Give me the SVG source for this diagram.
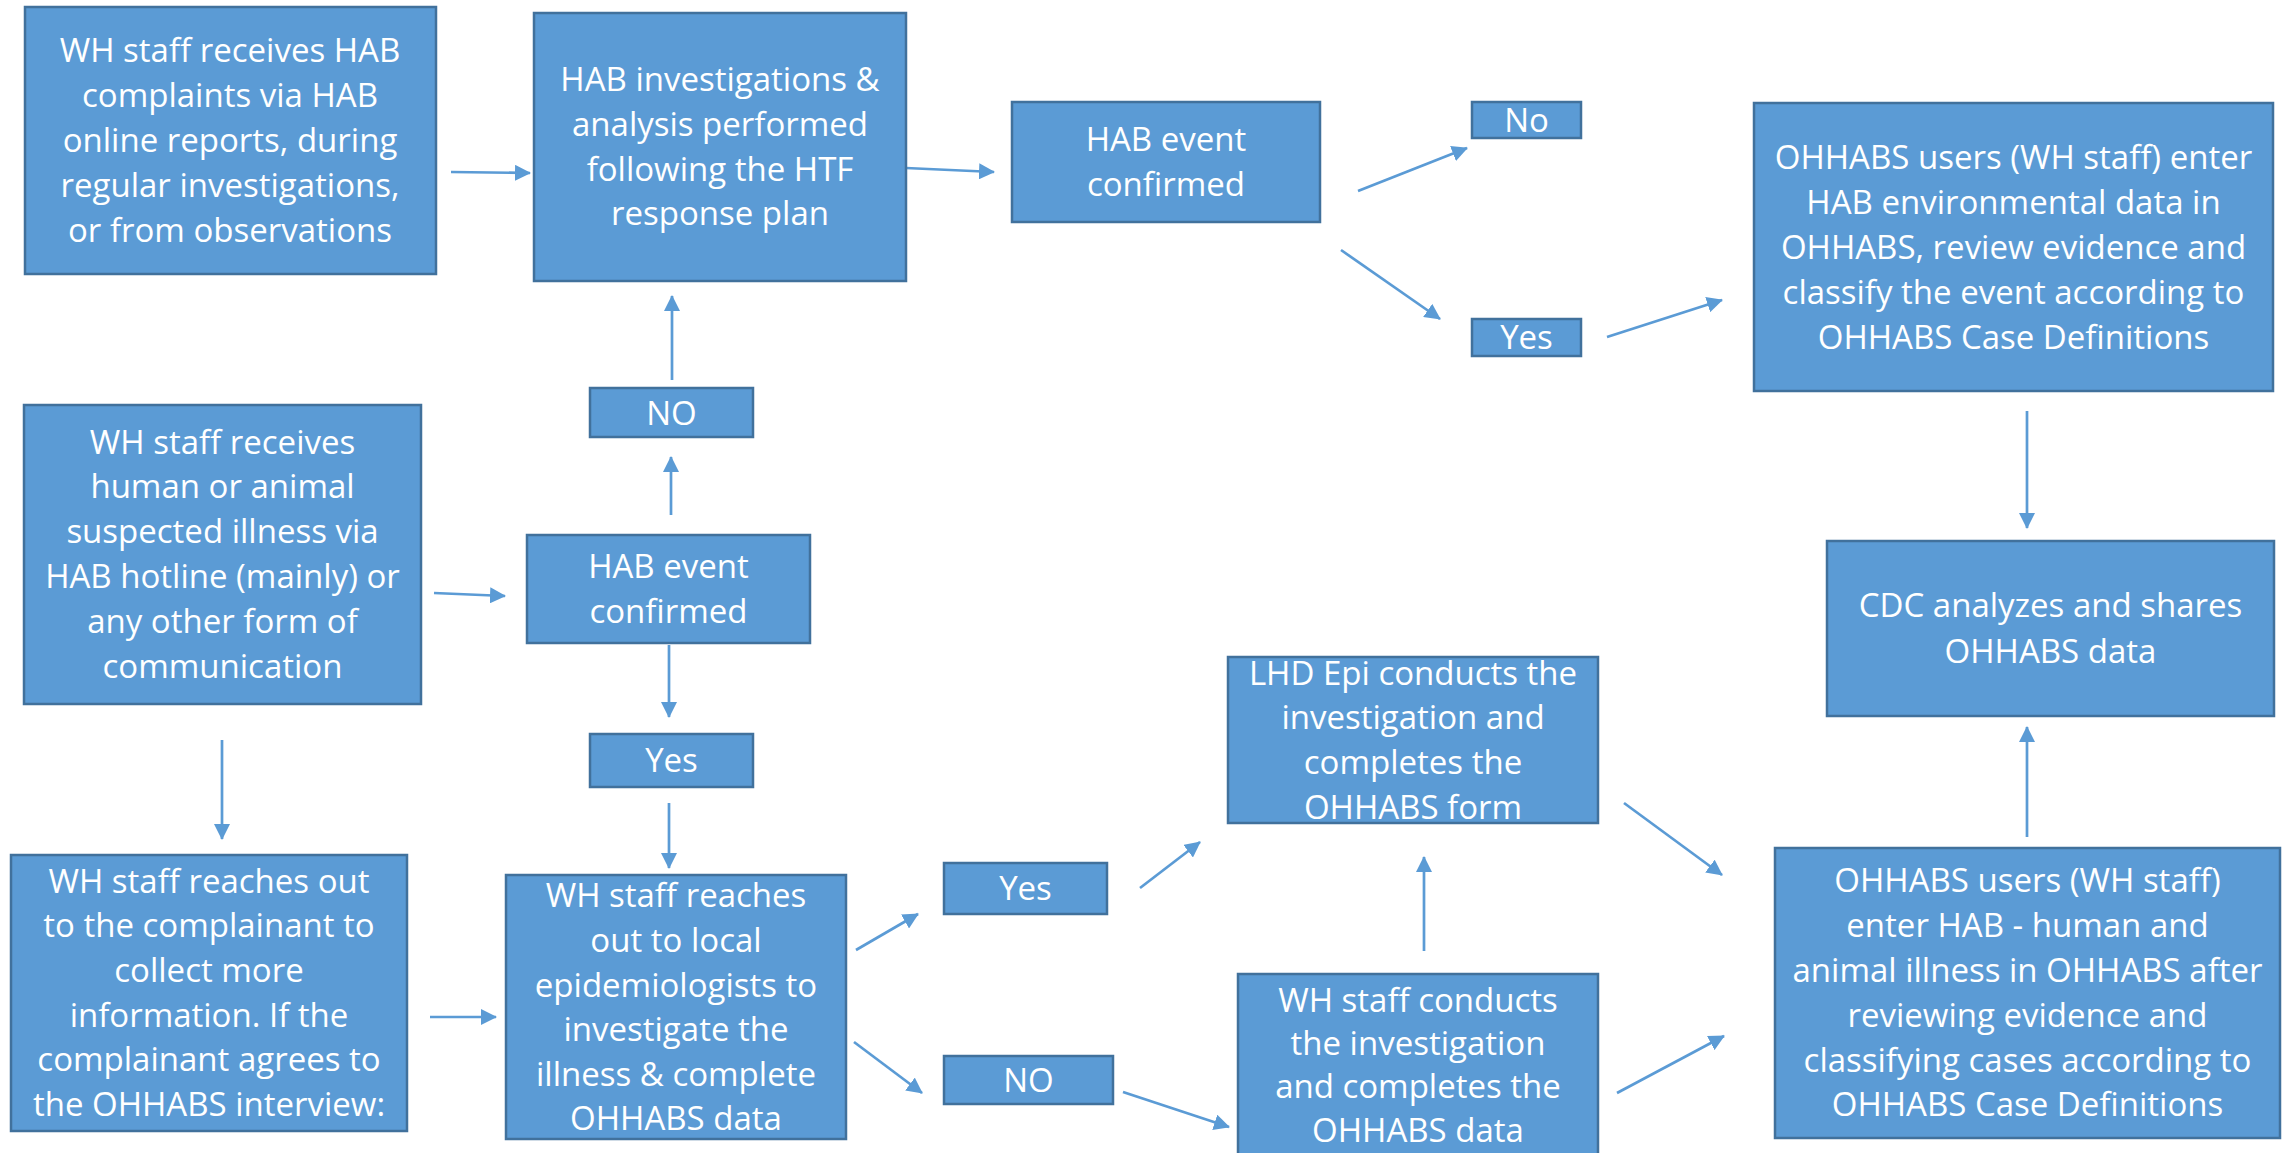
<svg xmlns="http://www.w3.org/2000/svg" width="2290" height="1153" viewBox="0 0 2290 1153">
<style>
.box{fill:#5B9BD5;stroke:#41719C;stroke-width:2.5}
.t{font-family:"Open Sans","Noto Sans","Liberation Sans",sans-serif;font-size:33px;fill:#FFFFFF;text-anchor:middle}
.c{fill:none;stroke:#5B9BD5;stroke-width:2.7;marker-end:url(#ah)}
</style>
<defs>
<marker id="ah" markerUnits="userSpaceOnUse" markerWidth="16" markerHeight="16" refX="15" refY="8" orient="auto" viewBox="0 0 16 16">
<path d="M0,0 L16,8 L0,16 z" fill="#5B9BD5"/>
</marker>
</defs>
<rect width="2290" height="1153" fill="#FFFFFF"/>

<g id="connectors">
<line class="c" x1="451" y1="172" x2="530" y2="173"/>
<line class="c" x1="906" y1="168" x2="994" y2="172"/>
<line class="c" x1="1358" y1="191" x2="1467" y2="148"/>
<line class="c" x1="1341" y1="250" x2="1440" y2="319"/>
<line class="c" x1="1607" y1="337" x2="1722" y2="300"/>
<line class="c" x1="2027" y1="411" x2="2027" y2="528"/>
<line class="c" x1="434" y1="593" x2="505" y2="596"/>
<line class="c" x1="671" y1="515" x2="671" y2="457"/>
<line class="c" x1="672" y1="380" x2="672" y2="296"/>
<line class="c" x1="669" y1="645" x2="669" y2="717"/>
<line class="c" x1="669" y1="803" x2="669" y2="868"/>
<line class="c" x1="222" y1="740" x2="222" y2="839"/>
<line class="c" x1="430" y1="1017" x2="496" y2="1017"/>
<line class="c" x1="856" y1="950" x2="918" y2="914"/>
<line class="c" x1="854" y1="1042" x2="922" y2="1093"/>
<line class="c" x1="1140" y1="888" x2="1200" y2="842"/>
<line class="c" x1="1123" y1="1092" x2="1229" y2="1127"/>
<line class="c" x1="1424" y1="951" x2="1424" y2="857"/>
<line class="c" x1="1624" y1="803" x2="1722" y2="875"/>
<line class="c" x1="1617" y1="1093" x2="1724" y2="1036"/>
<line class="c" x1="2027" y1="837" x2="2027" y2="727"/>
</g>

<g id="n-complaints">
<rect class="box" x="25" y="7" width="411" height="267"/>
<text class="t" x="230"><tspan x="230" y="62">WH staff receives HAB</tspan><tspan x="230" y="107">complaints via HAB</tspan><tspan x="230" y="152">online reports, during</tspan><tspan x="230" y="197">regular investigations,</tspan><tspan x="230" y="242">or from observations</tspan></text>
</g>

<g id="n-investigations">
<rect class="box" x="534" y="13" width="372" height="268"/>
<text class="t"><tspan x="720" y="91">HAB investigations &amp;</tspan><tspan x="720" y="136">analysis performed</tspan><tspan x="720" y="181">following the HTF</tspan><tspan x="720" y="225">response plan</tspan></text>
</g>

<g id="n-confirmed-top">
<rect class="box" x="1012" y="102" width="308" height="120"/>
<text class="t"><tspan x="1166" y="151">HAB event</tspan><tspan x="1166" y="196">confirmed</tspan></text>
</g>

<g id="n-no-top">
<rect class="box" x="1472" y="102" width="109" height="36"/>
<text class="t" x="1526.5" y="132">No</text>
</g>

<g id="n-yes-top">
<rect class="box" x="1472" y="319" width="109" height="37"/>
<text class="t" x="1526.5" y="349">Yes</text>
</g>

<g id="n-env-data">
<rect class="box" x="1754" y="103" width="519" height="288"/>
<text class="t"><tspan x="2013.5" y="169">OHHABS users (WH staff) enter</tspan><tspan x="2013.5" y="214">HAB environmental data in</tspan><tspan x="2013.5" y="259">OHHABS, review evidence and</tspan><tspan x="2013.5" y="304">classify the event according to</tspan><tspan x="2013.5" y="349">OHHABS Case Definitions</tspan></text>
</g>

<g id="n-cdc">
<rect class="box" x="1827" y="541" width="447" height="175"/>
<text class="t"><tspan x="2050.5" y="617">CDC analyzes and shares</tspan><tspan x="2050.5" y="663">OHHABS data</tspan></text>
</g>

<g id="n-illness">
<rect class="box" x="24" y="405" width="397" height="299"/>
<text class="t"><tspan x="222.5" y="454">WH staff receives</tspan><tspan x="222.5" y="498">human or animal</tspan><tspan x="222.5" y="543">suspected illness via</tspan><tspan x="222.5" y="588">HAB hotline (mainly) or</tspan><tspan x="222.5" y="633">any other form of</tspan><tspan x="222.5" y="678">communication</tspan></text>
</g>

<g id="n-no-mid">
<rect class="box" x="590" y="388" width="163" height="49"/>
<text class="t" x="671.5" y="425">NO</text>
</g>

<g id="n-confirmed-mid">
<rect class="box" x="527" y="535" width="283" height="108"/>
<text class="t"><tspan x="668.5" y="578">HAB event</tspan><tspan x="668.5" y="623">confirmed</tspan></text>
</g>

<g id="n-yes-mid">
<rect class="box" x="590" y="734" width="163" height="53"/>
<text class="t" x="671.5" y="772">Yes</text>
</g>

<g id="n-complainant">
<rect class="box" x="11" y="855" width="396" height="276"/>
<text class="t"><tspan x="209" y="893">WH staff reaches out</tspan><tspan x="209" y="937">to the complainant to</tspan><tspan x="209" y="982">collect more</tspan><tspan x="209" y="1027">information. If the</tspan><tspan x="209" y="1071">complainant agrees to</tspan><tspan x="209" y="1116">the OHHABS interview:</tspan></text>
</g>

<g id="n-epi">
<rect class="box" x="506" y="875" width="340" height="264"/>
<text class="t"><tspan x="676" y="907">WH staff reaches</tspan><tspan x="676" y="952">out to local</tspan><tspan x="676" y="997">epidemiologists to</tspan><tspan x="676" y="1041">investigate the</tspan><tspan x="676" y="1086">illness &amp; complete</tspan><tspan x="676" y="1130">OHHABS data</tspan></text>
</g>

<g id="n-yes-bot">
<rect class="box" x="944" y="863" width="163" height="51"/>
<text class="t" x="1025.5" y="900">Yes</text>
</g>

<g id="n-no-bot">
<rect class="box" x="944" y="1056" width="169" height="48"/>
<text class="t" x="1028.5" y="1092">NO</text>
</g>

<g id="n-lhd">
<rect class="box" x="1228" y="657" width="370" height="166"/>
<text class="t"><tspan x="1413" y="685">LHD Epi conducts the</tspan><tspan x="1413" y="729">investigation and</tspan><tspan x="1413" y="774">completes the</tspan><tspan x="1413" y="819">OHHABS form</tspan></text>
</g>

<g id="n-wh-conducts">
<rect class="box" x="1238" y="974" width="360" height="186"/>
<text class="t"><tspan x="1418" y="1012">WH staff conducts</tspan><tspan x="1418" y="1055">the investigation</tspan><tspan x="1418" y="1098">and completes the</tspan><tspan x="1418" y="1142">OHHABS data</tspan></text>
</g>

<g id="n-illness-data">
<rect class="box" x="1775" y="848" width="505" height="290"/>
<text class="t"><tspan x="2027.5" y="892">OHHABS users (WH staff)</tspan><tspan x="2027.5" y="937">enter HAB - human and</tspan><tspan x="2027.5" y="982">animal illness in OHHABS after</tspan><tspan x="2027.5" y="1027">reviewing evidence and</tspan><tspan x="2027.5" y="1072">classifying cases according to</tspan><tspan x="2027.5" y="1116">OHHABS Case Definitions</tspan></text>
</g>
</svg>
